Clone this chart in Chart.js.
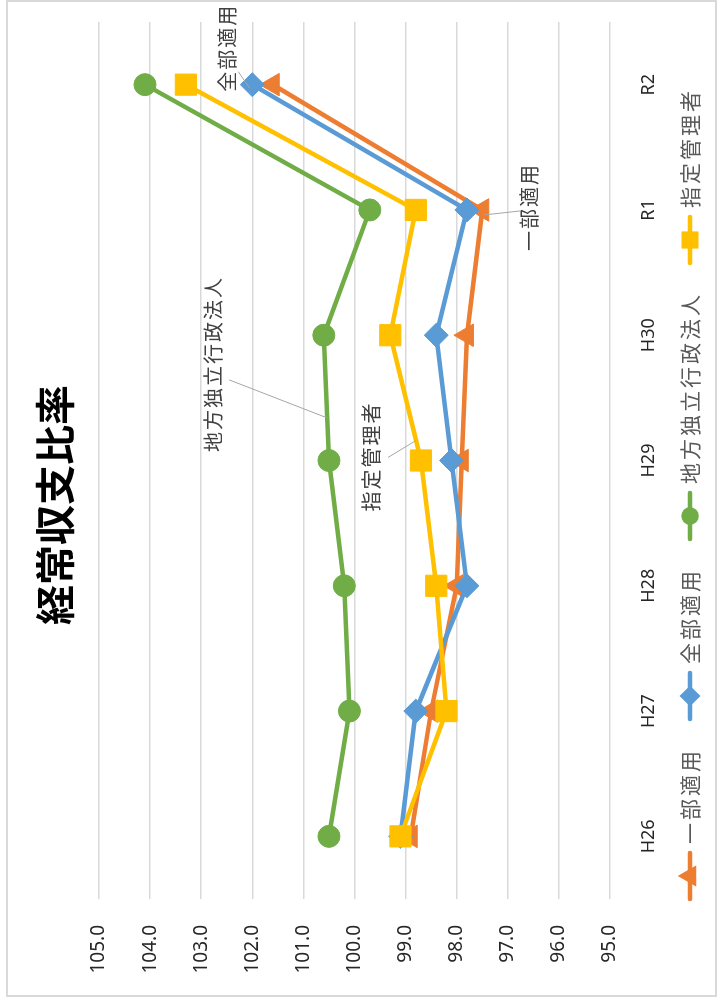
<!DOCTYPE html>
<html>
<head>
<meta charset="utf-8">
<script src="https://cdn.jsdelivr.net/npm/chart.js@4"></script>
<style>
  html, body { margin: 0; padding: 0; background: #fff; overflow: hidden; }
  #wrap {
    position: absolute; left: 0; top: 0;
    width: 998px; height: 718px;
    transform-origin: 0 0;
    transform: translate(0px, 998px) rotate(-90deg);
  }
</style>
</head>
<body>
<div id="wrap"><canvas id="chart" width="998" height="718"></canvas></div>
<script>
const categories = ['H26', 'H27', 'H28', 'H29', 'H30', 'R1', 'R2'];
const ichibu = [98.9, 98.5, 98.0, 97.9, 97.8, 97.5, 101.6];     // 一部適用
const zenbu = [99.1, 98.8, 97.8, 98.1, 98.4, 97.8, 102.0];      // 全部適用
const dokuhou = [100.5, 100.1, 100.2, 100.5, 100.6, 99.7, 104.1]; // 地方独立行政法人
const shitei = [99.1, 98.2, 98.4, 98.7, 99.3, 98.8, 103.3];     // 指定管理者
const yTicks = [95, 96, 97, 98, 99, 100, 101, 102, 103, 104, 105];

const colors = {
    orange: '#ED7D31',
    blue: '#5B9BD5',
    green: '#70AD47',
    yellow: '#FFC000',
    grid: '#d9d9d9',
    text: '#404040'
};

const JP = '"Noto Sans CJK JP", "Noto Sans", sans-serif';

const series = [
    { label: '一部適用', data: ichibu, color: colors.orange, style: 'triangle', r: 13 },
    { label: '全部適用', data: zenbu, color: colors.blue, style: 'rectRot', r: 12 },
    { label: '地方独立行政法人', data: dokuhou, color: colors.green, style: 'circle', r: 11 },
    { label: '指定管理者', data: shitei, color: colors.yellow, style: 'rect', r: 15 }
];

function spacedText(ctx, text, x, y, spacing) {
    // draw text centred at x with extra letter spacing
    let w = 0;
    const widths = [...text].map(c => ctx.measureText(c).width);
    widths.forEach(v => w += v);
    w += spacing * (widths.length - 1);
    let cx = x - w / 2;
    ctx.textAlign = 'left';
    [...text].forEach((c, i) => {
        ctx.fillText(c, cx, y);
        cx += widths[i] + spacing;
    });
    return w;
}

function textWidth(ctx, text, spacing) {
    let w = 0;
    [...text].forEach(c => w += ctx.measureText(c).width);
    return w + spacing * ([...text].length - 1);
}

const extras = {
    id: 'extras',
    afterDraw(chart) {
        const ctx = chart.ctx;
        ctx.save();

        // frame
        ctx.strokeStyle = colors.grid;
        ctx.lineWidth = 2;
        ctx.strokeRect(2, 7, 995, 709);

        // title
        ctx.fillStyle = '#000';
        ctx.font = 'bold 40px ' + JP;
        ctx.textAlign = 'center';
        ctx.textBaseline = 'middle';
        ctx.fillText('経常収支比率', 493, 55);

        // data labels with leader lines
        const pt = (ds, i) => chart.getDatasetMeta(ds).data[i];
        const along = (ds, i, t) => {
            const a = pt(ds, i), b = pt(ds, i + 1);
            return { x: a.x + (b.x - a.x) * t, y: a.y + (b.y - a.y) * t };
        };
        const notes = [
            { text: '全部適用', a: pt(1, 6), tx: 36, ty: -25, l1: [13, -14], l2: [-3, -3] },
            { text: '一部適用', a: pt(0, 5), tx: 2, ty: 47, l1: [-1, 38], l2: [-5, 2] },
            { text: '地方独立行政法人', a: along(2, 3, 0.34), tx: 53, ty: -114, l1: [38, -98], l2: [0, 0] },
            { text: '指定管理者', a: along(3, 3, 0.16), tx: -17, ty: -45, l1: [-17, -28], l2: [0, 0] }
        ];
        ctx.font = '20px ' + JP;
        ctx.textBaseline = 'middle';
        notes.forEach(n => {
            ctx.strokeStyle = '#a6a6a6';
            ctx.lineWidth = 1;
            ctx.beginPath();
            ctx.moveTo(n.a.x + n.l1[0], n.a.y + n.l1[1]);
            ctx.lineTo(n.a.x + n.l2[0], n.a.y + n.l2[1]);
            ctx.stroke();
            ctx.fillStyle = colors.text;
            spacedText(ctx, n.text, n.a.x + n.tx, n.a.y + n.ty, 2);
        });

        // legend
        const lineLen = 50, gap = 7, itemGap = 30, spacing = 3, ly = 690;
        ctx.font = '21px ' + JP;
        const widths = series.map(s => textWidth(ctx, s.label, spacing));
        let total = 0;
        widths.forEach(w => total += lineLen + gap + w);
        total += itemGap * (series.length - 1);
        let x = 502 - total / 2;
        series.forEach((s, i) => {
            ctx.strokeStyle = s.color;
            ctx.lineWidth = 4.5;
            ctx.lineCap = 'round';
            ctx.beginPath();
            ctx.moveTo(x + 2, ly);
            ctx.lineTo(x + lineLen - 2, ly);
            ctx.stroke();
            Chart.helpers.drawPoint(ctx, {
                pointStyle: s.style, radius: s.r * 0.6, borderWidth: 1, rotation: 0
            }, x + lineLen / 2, ly);
            ctx.fillStyle = s.color;
            ctx.fill();
            x += lineLen + gap;
            ctx.fillStyle = '#595959';
            spacedText(ctx, s.label, x + widths[i] / 2, ly, spacing);
            x += widths[i] + itemGap;
        });

        ctx.restore();
    }
};

new Chart(document.getElementById('chart'), {
    type: 'line',
    data: {
        labels: categories,
        datasets: series.map((s, i) => ({
            label: s.label,
            data: s.data,
            borderColor: s.color,
            backgroundColor: s.color,
            borderWidth: 4.5,
            pointStyle: s.style,
            pointRadius: s.r,
            pointBorderWidth: 1,
            pointBackgroundColor: s.color,
            pointBorderColor: s.color,
            order: series.length - i,
            tension: 0
        }))
    },
    options: {
        responsive: false,
        animation: false,
        layout: { padding: { left: 0, right: 22, top: 99, bottom: 0 } },
        plugins: {
            legend: { display: false },
            title: { display: false },
            tooltip: { enabled: false }
        },
        scales: {
            x: {
                offset: true,
                grid: { display: false },
                border: { display: false },
                ticks: { color: '#262626', font: { size: 18, family: '"Noto Sans", sans-serif' }, padding: 20 },
                afterFit: s => { s.height = 108; }
            },
            y: {
                min: 95,
                max: 105,
                afterBuildTicks: s => { s.ticks = yTicks.map(v => ({ value: v })); },
                grid: { color: colors.grid, lineWidth: 1.5, drawTicks: false },
                border: { display: false },
                ticks: {
                    color: '#262626',
                    padding: 26,
                    font: { size: 19, family: '"Noto Sans", sans-serif' },
                    callback: v => v.toFixed(1)
                },
                afterFit: s => { s.width = 99; }
            }
        }
    },
    plugins: [extras]
});
</script>
</body>
</html>
